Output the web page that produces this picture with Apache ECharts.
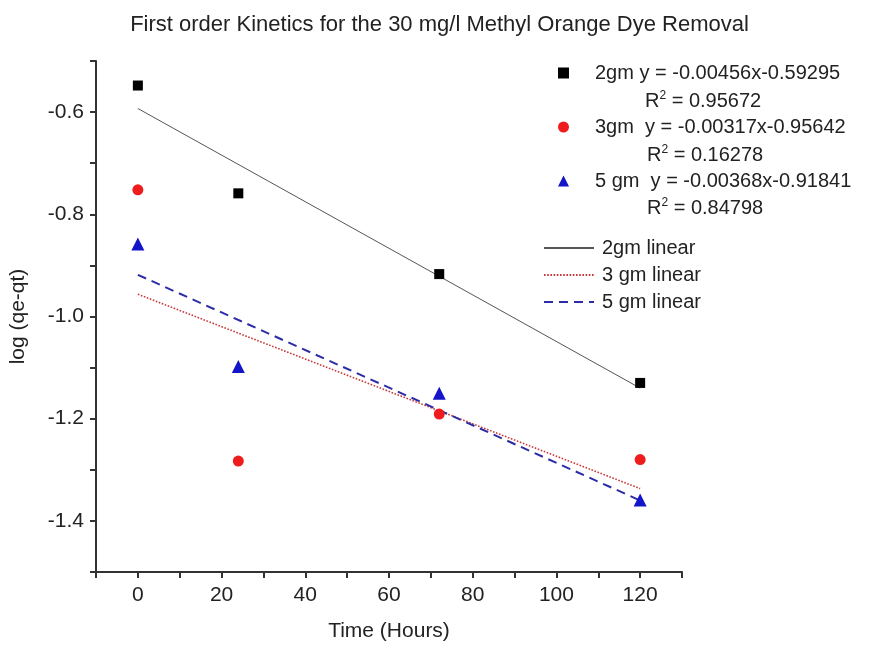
<!DOCTYPE html>
<html>
<head>
<meta charset="utf-8">
<script src="https://cdn.jsdelivr.net/npm/echarts@6/dist/echarts.min.js"></script>
<style>
  html, body { margin: 0; padding: 0; background: #fff; }
  #chart { width: 879px; height: 648px; }
</style>
</head>
<body>
<div id="chart"></div>
<script>
// Contact time (hours)
const times = [0, 24, 72, 120];

// log(qe - qt) for each adsorbent dose
const dose2gm = [-0.548, -0.759, -0.917, -1.130];
const dose3gm = [-0.752, -1.283, -1.191, -1.280];
const dose5gm = [-0.858, -1.098, -1.150, -1.359];

// Linear fit parameters (slope, intercept) and R² per dose
const fitSlopes = [-0.00456, -0.00317, -0.00368];
const fitIntercepts = [-0.59295, -0.95642, -0.91841];
const fitR2 = ['0.95672', '0.16278', '0.84798'];

// Series names and legend texts
const pointNames = ['2gm', '3gm', '5 gm'];
const pointLabels = [
  '2gm y = -0.00456x-0.59295',
  '3gm  y = -0.00317x-0.95642',
  '5 gm  y = -0.00368x-0.91841'
];
const lineNames = ['2gm linear', '3 gm linear', '5 gm linear'];

// Fit range along x
const fitRange = [0, 120];

// Axis tick values
const xTickLabels = [0, 20, 40, 60, 80, 100, 120];
const yTickLabels = ['-0.6', '-0.8', '-1.0', '-1.2', '-1.4'];

const FONT = '"Liberation Sans", Arial, sans-serif';
const TEXT = '#222';

function pairs(xs, ys) { return xs.map((x, i) => [x, ys[i]]); }
function fitLine(k) {
  return fitRange.map(x => [x, fitSlopes[k] * x + fitIntercepts[k]]);
}

const pointColors = ['#000000', '#ee1c1c', '#1414c8'];
const pointSymbols = ['rect', 'circle', 'triangle'];
const pointSizes = [10, 11, 13];
const pointData = [dose2gm, dose3gm, dose5gm];

const lineStyles = [
  { color: '#555555', width: 1, type: 'solid' },
  { color: '#c83a3a', width: 1.6, type: [1.6, 1.6] },
  { color: '#2c2ca6', width: 2, type: [9, 6] }
];

const series = [];
lineNames.forEach((name, k) => {
  series.push({
    name: name,
    type: 'line',
    data: fitLine(k),
    showSymbol: false,
    symbol: 'none',
    lineStyle: lineStyles[k],
    itemStyle: { color: lineStyles[k].color },
    z: 2,
    silent: true,
    animation: false
  });
});
pointNames.forEach((name, k) => {
  series.push({
    name: name,
    type: 'scatter',
    data: pairs(times, pointData[k]),
    symbol: pointSymbols[k],
    symbolSize: pointSizes[k],
    itemStyle: { color: pointColors[k], opacity: 1 },
    z: 3,
    animation: false
  });
});

const labelMap = {};
pointNames.forEach((n, i) => { labelMap[n] = pointLabels[i]; });

const r2Tops = [102, 156, 209];
const r2Lefts = [645, 647, 647];

const chart = echarts.init(document.getElementById('chart'), null, { renderer: 'canvas' });
chart.setOption({
  backgroundColor: '#fff',
  animation: false,
  title: {
    text: 'First order Kinetics for the 30 mg/l Methyl Orange Dye Removal',
    left: 'center',
    top: 9,
    textStyle: { fontFamily: FONT, fontSize: 22, fontWeight: 'normal', color: TEXT }
  },
  grid: { left: 96, right: 197, top: 61, bottom: 76, containLabel: false },
  xAxis: {
    type: 'value',
    min: -10,
    max: 130,
    interval: 10,
    name: 'Time (Hours)',
    nameLocation: 'middle',
    nameGap: 49,
    nameTextStyle: { fontFamily: FONT, fontSize: 21, color: TEXT },
    axisLine: { show: true, onZero: false, lineStyle: { color: '#333', width: 2 } },
    axisTick: { show: true, inside: false, length: 6, lineStyle: { color: '#333', width: 2 } },
    axisLabel: {
      fontFamily: FONT, fontSize: 21, color: TEXT, margin: 13,
      formatter: v => (xTickLabels.indexOf(Math.round(v)) >= 0 ? String(Math.round(v)) : '')
    },
    splitLine: { show: false }
  },
  yAxis: {
    type: 'value',
    min: -1.5,
    max: -0.5,
    interval: 0.1,
    name: 'log (qe-qt)',
    nameLocation: 'middle',
    nameRotate: 90,
    nameGap: 67,
    nameTextStyle: { fontFamily: FONT, fontSize: 21, color: TEXT },
    axisLine: { show: true, onZero: false, lineStyle: { color: '#333', width: 2 } },
    axisTick: { show: true, inside: false, length: 6, lineStyle: { color: '#333', width: 2 } },
    axisLabel: {
      fontFamily: FONT, fontSize: 21, color: TEXT, margin: 12,
      formatter: v => {
        const s = v.toFixed(1);
        return yTickLabels.indexOf(s) >= 0 ? s : '';
      }
    },
    splitLine: { show: false }
  },
  legend: [
    {
      data: pointNames,
      orient: 'vertical',
      left: 553,
      top: 58,
      itemWidth: 11,
      itemHeight: 11,
      itemGap: 34,
      selectedMode: false,
      formatter: name => labelMap[name],
      textStyle: { fontFamily: FONT, fontSize: 20, color: TEXT, padding: [0, 0, 0, 21] }
    },
    {
      data: lineNames,
      orient: 'vertical',
      left: 538,
      top: 233,
      itemWidth: 50,
      itemHeight: 12,
      itemGap: 7,
      selectedMode: false,
      itemStyle: { opacity: 0 },
      textStyle: { fontFamily: FONT, fontSize: 20, color: TEXT, padding: [0, 0, 0, 3] }
    }
  ],
  graphic: fitR2.map((r, i) => ({
    type: 'text',
    left: r2Lefts[i],
    top: r2Tops[i] - 12,
    style: {
      text: '{r|R}{s|2}{r| = ' + r + '}',
      rich: {
        r: { fontFamily: FONT, fontSize: 20, fill: TEXT, lineHeight: 23 },
        s: { fontFamily: FONT, fontSize: 12, fill: TEXT, verticalAlign: 'top', lineHeight: 12 }
      }
    }
  })),
  series: series
});
</script>
</body>
</html>
